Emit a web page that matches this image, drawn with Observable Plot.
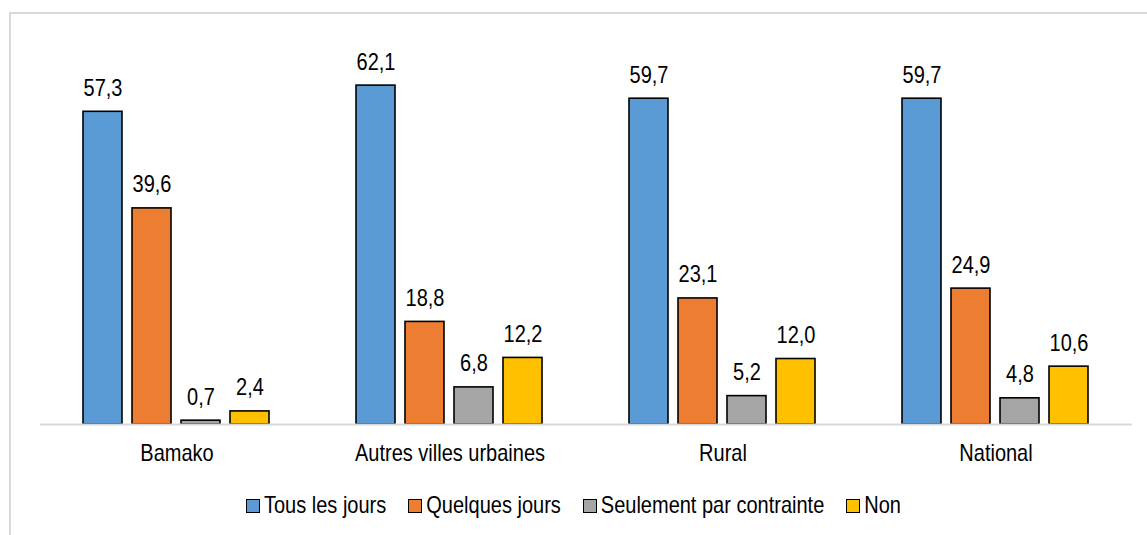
<!DOCTYPE html>
<html>
<head>
<meta charset="utf-8">
<script src="https://cdn.jsdelivr.net/npm/d3@7"></script>
<script src="https://cdn.jsdelivr.net/npm/@observablehq/plot@0.6"></script>
<style>
  html, body { margin: 0; padding: 0; background: #fff; }
  body { width: 1147px; height: 535px; position: relative; overflow: hidden; font-family: "Liberation Sans", Arial, sans-serif; }
  #frame { position: absolute; left: 9px; top: 12px; width: 1200px; height: 600px; border-top: 2px solid #d9d9d9; border-left: 2px solid #d9d9d9; box-sizing: border-box; }
  #chart { position: absolute; left: 0; top: 0; }
  #legend { position: absolute; left: 0; top: 494px; width: 1147px; display: flex; justify-content: center; align-items: center; font-size: 20px; color: #000; }
  .item { display: flex; align-items: center; margin: 0 11px; }
  .item span { display: inline-block; transform: scaleY(1.2); }
  .sw { width: 12px; height: 12px; border: 1.5px solid #000; margin-right: 4px; }
</style>
</head>
<body>
<div id="frame"></div>
<div id="chart"></div>
<div id="legend"></div>
<script>
const groups = ["Bamako", "Autres villes urbaines", "Rural", "National"];
const series = ["Tous les jours", "Quelques jours", "Seulement par contrainte", "Non"];
const colors = ["#5B9BD5", "#ED7D31", "#A5A5A5", "#FFC000"];
const tousLesJours = [57.3, 62.1, 59.7, 59.7];
const quelquesJours = [39.6, 18.8, 23.1, 24.9];
const contrainte = [0.7, 6.8, 5.2, 4.8];
const non = [2.4, 12.2, 12.0, 10.6];

const valuesBySeries = [tousLesJours, quelquesJours, contrainte, non];
const data = [];
groups.forEach((g, gi) => {
  series.forEach((s, si) => {
    data.push({group: g, series: s, value: valuesBySeries[si][gi]});
  });
});

const fmt = v => v.toFixed(1).replace(".", ",");

const plot = Plot.plot({
  width: 1147,
  height: 470,
  marginLeft: 38,
  marginRight: 14,
  marginTop: 42,
  marginBottom: 46,
  style: {fontFamily: "'Liberation Sans', Arial, sans-serif", fontSize: "20px", background: "transparent", color: "#000"},
  fx: {domain: groups, padding: 0, label: null, tickSize: 0, tickPadding: 22, axis: "bottom"},
  x: {domain: series, paddingInner: 0.2, paddingOuter: 0.84, axis: null},
  y: {domain: [0, 70], axis: null},
  color: {domain: series, range: colors},
  marks: [
    Plot.barY(data, {fx: "group", x: "series", y: "value", fill: "series", stroke: "#000", strokeWidth: 1.6}),
    Plot.ruleY([0], {stroke: "#d9d9d9", strokeWidth: 2}),
    Plot.text(data, {fx: "group", x: "series", y: "value", text: d => fmt(d.value), lineAnchor: "bottom", dy: -16, fontSize: 20, fill: "#000"})
  ]
});

// stretch text vertically (reference glyphs are taller than wide)
const toPx = v => {
  if (v == null || v === "") return 0;
  const n = parseFloat(v);
  if (isNaN(n)) return 0;
  return /em$/.test(v) ? n * 20 : n;
};
plot.querySelectorAll("text").forEach(t => {
  const x = toPx(t.getAttribute("x"));
  const y = toPx(t.getAttribute("y"));
  const dy = toPx(t.getAttribute("dy"));
  t.removeAttribute("x");
  t.removeAttribute("y");
  t.removeAttribute("dy");
  const tr = t.getAttribute("transform") || "";
  t.setAttribute("transform", `${tr} translate(${x},${y + dy}) scale(1,1.2)`);
});

document.getElementById("chart").appendChild(plot);

const legend = document.getElementById("legend");
const colorScale = plot.scale("color");
series.forEach((s, i) => {
  const item = document.createElement("div");
  item.className = "item";
  const sw = document.createElement("div");
  sw.className = "sw";
  sw.style.background = colorScale.range[i];
  const label = document.createElement("span");
  label.textContent = s;
  item.appendChild(sw);
  item.appendChild(label);
  legend.appendChild(item);
});
</script>
</body>
</html>
